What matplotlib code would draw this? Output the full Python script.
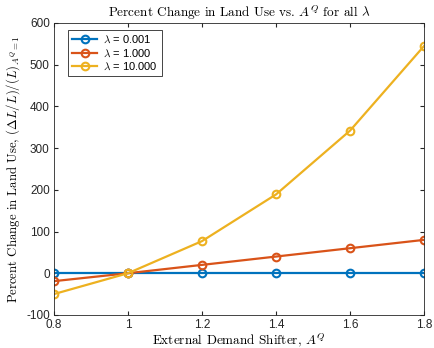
import matplotlib
matplotlib.use("Agg")
import matplotlib.pyplot as plt

# Percent change in land use for each lambda
a_q = [0.8, 1.0, 1.2, 1.4, 1.6, 1.8]
lam_labels = ["0.001", "1.000", "10.000"]
pct_low = [0.0, 0.0, 0.0, 0.0, 0.0, 0.0]
pct_mid = [-19.0, 0.0, 20.0, 40.0, 60.0, 80.0]
pct_high = [-50.0, 0.0, 77.0, 189.0, 342.0, 545.0]

COLORS = ["#0072BD", "#D95319", "#EDB120"]
AXIS_COLOR = "#262626"
SERIF = "cmr10"

plt.rcParams["mathtext.fontset"] = "cm"
plt.rcParams["axes.formatter.use_mathtext"] = True
plt.rcParams["font.family"] = ["Liberation Sans", "DejaVu Sans"]

fig = plt.figure(figsize=(4.35, 3.48), dpi=100)
ax = fig.add_axes([0.124, 0.095, 0.851, 0.839])

for series, lab, col in zip([pct_low, pct_mid, pct_high], lam_labels, COLORS):
    ax.plot(a_q, series, color=col, linewidth=1.6, marker="o", markersize=5.5,
            markerfacecolor="none", markeredgewidth=1.5,
            label=r"$\lambda$ = " + lab)

ax.set_xlim(0.8, 1.8)
ax.set_ylim(-100, 600)
ax.set_xticks([0.8, 1.0, 1.2, 1.4, 1.6, 1.8])
ax.set_xticklabels(["0.8", "1", "1.2", "1.4", "1.6", "1.8"])
ax.set_yticks(range(-100, 601, 100))
ax.set_yticklabels([str(v) for v in range(-100, 601, 100)])

ax.tick_params(direction="in", top=True, right=True, length=3,
               colors=AXIS_COLOR, labelsize=8.5, pad=3)
for spine in ax.spines.values():
    spine.set_edgecolor(AXIS_COLOR)
    spine.set_linewidth(0.6)

ax.set_title(r"Percent Change in Land Use vs. $A^Q$ for all $\lambda$",
             fontsize=9.5, family=SERIF, color="black", pad=4)
ax.set_xlabel(r"External Demand Shifter, $A^Q$", fontsize=9.5,
              family=SERIF, labelpad=0)
ax.set_ylabel(r"Percent Change in Land Use, $(\Delta L/L)/(L)_{A^Q=1}$",
              fontsize=9.2, family=SERIF, labelpad=3)

leg = ax.legend(loc="upper left", bbox_to_anchor=(0.038, 0.976),
                fontsize=8, fancybox=False, edgecolor=AXIS_COLOR,
                framealpha=1, borderaxespad=0, handlelength=2.3,
                labelspacing=0.2, borderpad=0.35, handletextpad=0.5)
leg.get_frame().set_linewidth(0.6)

fig.savefig("out.png", dpi=100)
